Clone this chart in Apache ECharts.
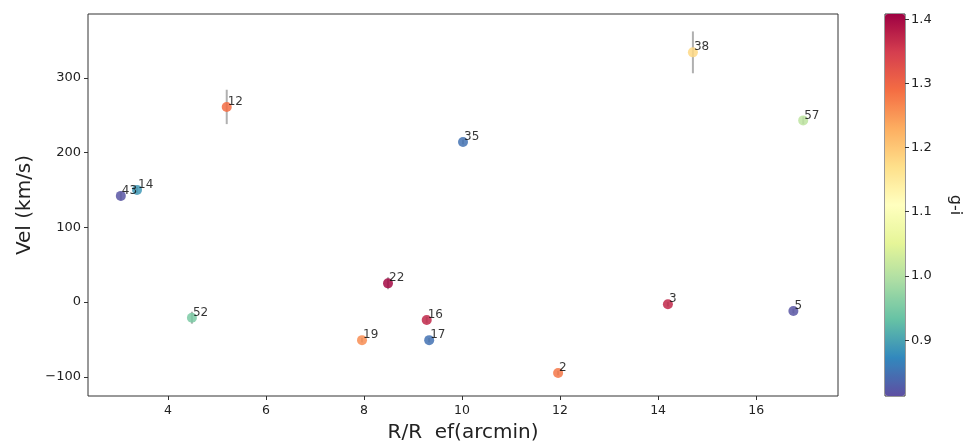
<!DOCTYPE html>
<html><head><meta charset="utf-8">
<script src="https://cdn.jsdelivr.net/npm/echarts@6/dist/echarts.min.js"></script>
<style>html,body{margin:0;padding:0;background:#fff}#c{width:970px;height:445px}</style>
</head><body><div id="c"></div>
<script>
const names = ['43','14','12','35','22','16','19','17','38','57','3','5','2','52'];
const rr    = [3.04,3.37,5.20,10.02,8.49,9.28,7.96,9.33,14.71,16.96,14.20,16.76,11.96,4.49];
const vel   = [142,150,261,214,25,-24,-51,-51,334,243,-3,-12,-95,-21];
const gi    = [0.82,0.89,1.29,0.85,1.40,1.37,1.26,0.85,1.18,1.01,1.37,0.82,1.28,0.95];
const verr  = [6,4,23,3,8,4,3,3,28,5,3,3,3,8];
const xTicks = [4,6,8,10,12,14,16];
const yTicks = [-100,0,100,200,300];
const cTicks = [0.9,1.0,1.1,1.2,1.3,1.4];
const spectralR = ['#5e4fa2','#3288bd','#66c2a5','#abdda4','#e6f598','#ffffbf','#fee08b','#fdae61','#f46d43','#d53e4f','#9e0142'];

const pts = names.map((n,i)=>[rr[i], vel[i], gi[i], n]);
const errs = names.map((n,i)=>[rr[i], vel[i], verr[i]]);
const minus = v => String(v).replace('-', '\u2212');
const font = 'DejaVu Sans';
const chart = echarts.init(document.getElementById('c'));
chart.setOption({
  animation:false,
  textStyle:{fontFamily:font},
  grid:[
    {left:88, top:14, width:750, height:382, show:true, borderColor:'#333', borderWidth:1, backgroundColor:'#fff', outerBoundsMode:'none', containLabel:false},
    {left:885, top:14, width:20, height:382, show:true, borderColor:'#333', borderWidth:1, backgroundColor:'transparent', outerBoundsMode:'none', containLabel:false}
  ],
  xAxis:[
    {type:'value', gridIndex:0, min:2.37, max:17.67,
     name:'R/R  ef(arcmin)', nameLocation:'middle', nameGap:27,
     nameTextStyle:{fontSize:20, color:'#222', fontFamily:font},
     axisLine:{show:false, onZero:false}, splitLine:{show:false},
     axisTick:{show:true, length:4, lineStyle:{color:'#333'}, customValues:xTicks},
     axisLabel:{fontSize:12.5, color:'#222', margin:8, customValues:xTicks, formatter:minus}},
    {type:'value', gridIndex:1, show:false, min:0, max:1}
  ],
  yAxis:[
    {type:'value', gridIndex:0, min:-125.7, max:385.3,
     name:'Vel (km/s)', nameLocation:'middle', nameGap:48,
     nameTextStyle:{fontSize:20, color:'#222', fontFamily:font},
     axisLine:{show:false, onZero:false}, splitLine:{show:false},
     axisTick:{show:true, length:4, lineStyle:{color:'#333'}, customValues:yTicks},
     axisLabel:{fontSize:13, color:'#222', margin:7, customValues:yTicks, formatter:minus}},
    {type:'value', gridIndex:1, position:'right', min:0.813, max:1.408,
     name:'g-i', nameLocation:'middle', nameGap:42, nameRotate:-90,
     nameTextStyle:{fontSize:16, color:'#222', fontFamily:font},
     axisLine:{show:false, onZero:false}, splitLine:{show:false},
     axisTick:{show:true, length:4, lineStyle:{color:'#333'}, customValues:cTicks},
     axisLabel:{fontSize:13, color:'#222', margin:6, customValues:cTicks, formatter:v=>Number(v).toFixed(1)}}
  ],
  visualMap:{
    type:'continuous', min:0.813, max:1.408, dimension:2, seriesIndex:1,
    left:885, top:14, itemWidth:20, itemHeight:382, padding:0,
    calculable:false, showLabel:false, text:null, orient:'vertical',
    inRange:{color:spectralR}
  },
  series:[
    {type:'custom', xAxisIndex:0, yAxisIndex:0, data:errs, z:1,
     renderItem:(params, api)=>{
       const x = api.value(0), y = api.value(1), e = api.value(2);
       const p1 = api.coord([x, y - e]), p2 = api.coord([x, y + e]);
       return {type:'line', shape:{x1:p1[0], y1:p1[1], x2:p2[0], y2:p2[1]},
               style:{stroke:'#b0b0b0', lineWidth:2}};
     }},
    {type:'scatter', xAxisIndex:0, yAxisIndex:0, data:pts, symbolSize:10, z:2,
     itemStyle:{opacity:0.85},
     label:{show:true, formatter:p=>p.value[3], position:[6,6], align:'left', verticalAlign:'bottom',
            color:'#111', fontSize:12, fontFamily:font}}
  ]
});
</script></body></html>
